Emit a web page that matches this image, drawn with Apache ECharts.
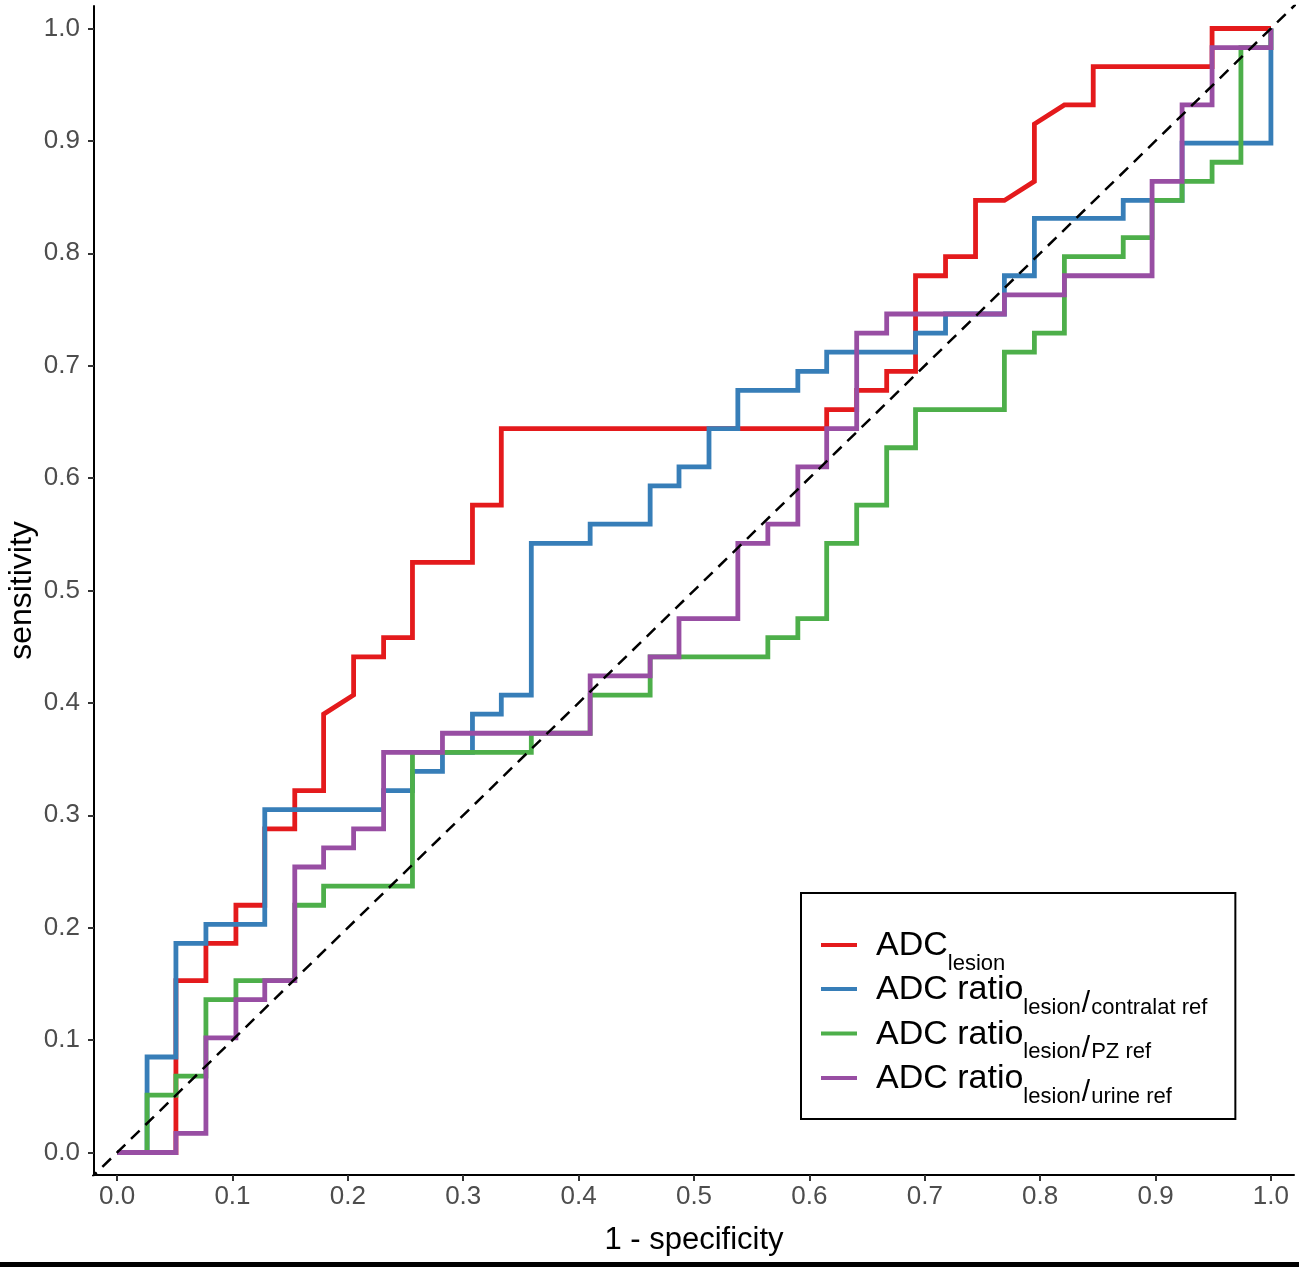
<!DOCTYPE html>
<html>
<head>
<meta charset="utf-8">
<script src="https://cdn.jsdelivr.net/npm/echarts@6/dist/echarts.min.js"></script>
<style>
    html, body { margin: 0; padding: 0; background: #fff; }
    #myChart { width: 1299px; height: 1267px; }
</style>
</head>
<body>
<div id="myChart"></div>
<script>
// 1 - specificity (x) / sensitivity (y)
let adcLesionX = [0, 0.051, 0.051, 0.077, 0.077, 0.103, 0.103, 0.128, 0.128, 0.154, 0.154, 0.179, 0.179, 0.205, 0.205, 0.231, 0.231, 0.256, 0.256, 0.308, 0.308, 0.333, 0.333, 0.615, 0.615, 0.641, 0.641, 0.667, 0.667, 0.692, 0.692, 0.718, 0.718, 0.744, 0.744, 0.769, 0.795, 0.795, 0.821, 0.846, 0.846, 0.949, 0.949, 1];
let adcLesionY = [0, 0, 0.153, 0.153, 0.186, 0.186, 0.220, 0.220, 0.288, 0.288, 0.322, 0.322, 0.390, 0.407, 0.441, 0.441, 0.458, 0.458, 0.525, 0.525, 0.576, 0.576, 0.644, 0.644, 0.661, 0.661, 0.678, 0.678, 0.695, 0.695, 0.780, 0.780, 0.797, 0.797, 0.847, 0.847, 0.864, 0.915, 0.932, 0.932, 0.966, 0.966, 1, 1];

let contralatX = [0, 0.026, 0.026, 0.051, 0.051, 0.077, 0.077, 0.128, 0.128, 0.231, 0.231, 0.256, 0.256, 0.282, 0.282, 0.308, 0.308, 0.333, 0.333, 0.359, 0.359, 0.410, 0.410, 0.462, 0.462, 0.487, 0.487, 0.513, 0.513, 0.538, 0.538, 0.590, 0.590, 0.615, 0.615, 0.692, 0.692, 0.718, 0.718, 0.769, 0.769, 0.795, 0.795, 0.872, 0.872, 0.923, 0.923, 1, 1];
let contralatY = [0, 0, 0.085, 0.085, 0.186, 0.186, 0.203, 0.203, 0.305, 0.305, 0.322, 0.322, 0.339, 0.339, 0.356, 0.356, 0.390, 0.390, 0.407, 0.407, 0.542, 0.542, 0.559, 0.559, 0.593, 0.593, 0.610, 0.610, 0.644, 0.644, 0.678, 0.678, 0.695, 0.695, 0.712, 0.712, 0.729, 0.729, 0.746, 0.746, 0.780, 0.780, 0.831, 0.831, 0.847, 0.847, 0.898, 0.898, 1];

let pzX = [0, 0.026, 0.026, 0.051, 0.051, 0.077, 0.077, 0.103, 0.103, 0.154, 0.154, 0.179, 0.179, 0.256, 0.256, 0.359, 0.359, 0.410, 0.410, 0.462, 0.462, 0.564, 0.564, 0.590, 0.590, 0.615, 0.615, 0.641, 0.641, 0.667, 0.667, 0.692, 0.692, 0.769, 0.769, 0.795, 0.795, 0.821, 0.821, 0.872, 0.872, 0.897, 0.897, 0.923, 0.923, 0.949, 0.949, 0.974, 0.974, 1, 1];
let pzY = [0, 0, 0.051, 0.051, 0.068, 0.068, 0.136, 0.136, 0.153, 0.153, 0.220, 0.220, 0.237, 0.237, 0.356, 0.356, 0.373, 0.373, 0.407, 0.407, 0.441, 0.441, 0.458, 0.458, 0.475, 0.475, 0.542, 0.542, 0.576, 0.576, 0.627, 0.627, 0.661, 0.661, 0.712, 0.712, 0.729, 0.729, 0.797, 0.797, 0.814, 0.814, 0.847, 0.847, 0.864, 0.864, 0.881, 0.881, 0.983, 0.983, 1];

let urineX = [0, 0.051, 0.051, 0.077, 0.077, 0.103, 0.103, 0.128, 0.128, 0.154, 0.154, 0.179, 0.179, 0.205, 0.205, 0.231, 0.231, 0.282, 0.282, 0.410, 0.410, 0.462, 0.462, 0.487, 0.487, 0.538, 0.538, 0.564, 0.564, 0.590, 0.590, 0.615, 0.615, 0.641, 0.641, 0.667, 0.667, 0.769, 0.769, 0.821, 0.821, 0.897, 0.897, 0.923, 0.923, 0.949, 0.949, 1, 1];
let urineY = [0, 0, 0.017, 0.017, 0.102, 0.102, 0.136, 0.136, 0.153, 0.153, 0.254, 0.254, 0.271, 0.271, 0.288, 0.288, 0.356, 0.356, 0.373, 0.373, 0.424, 0.424, 0.441, 0.441, 0.475, 0.475, 0.542, 0.542, 0.559, 0.559, 0.610, 0.610, 0.644, 0.644, 0.729, 0.729, 0.746, 0.746, 0.763, 0.763, 0.780, 0.780, 0.864, 0.864, 0.932, 0.932, 0.983, 0.983, 1];

// chance line y = x
let diagX = [-0.05, 1.05];
let diagY = [-0.05, 1.05];

let tickValues = [0, 0.1, 0.2, 0.3, 0.4, 0.5, 0.6, 0.7, 0.8, 0.9, 1.0];

let seriesNames = ['ADC lesion', 'ADC ratio contralat', 'ADC ratio PZ', 'ADC ratio urine'];
let legendLabels = {
    'ADC lesion': '{m|ADC}{s|lesion}',
    'ADC ratio contralat': '{m|ADC ratio}{s|lesion}{sl|/}{s|contralat ref}',
    'ADC ratio PZ': '{m|ADC ratio}{s|lesion}{sl|/}{s|PZ ref}',
    'ADC ratio urine': '{m|ADC ratio}{s|lesion}{sl|/}{s|urine ref}'
};
let colors = ['#E41A1C', '#377EB8', '#4DAF4A', '#984EA3'];

function zip(xs, ys) {
    let out = [];
    for (let i = 0; i < xs.length; i++) {
        out.push([xs[i], ys[i]]);
    }
    return out;
}

let font = 'Liberation Sans, Arial, sans-serif';
let myChart = echarts.init(document.getElementById('myChart'));

let rocLine = (name, xs, ys, color) => ({
    name: name,
    type: 'line',
    data: zip(xs, ys),
    showSymbol: false,
    symbol: 'none',
    color: color,
    lineStyle: { color: color, width: 4.8, join: 'miter', cap: 'butt' }
});

let option = {
    animation: false,
    backgroundColor: '#fff',
    grid: { left: 94, right: 5, top: 6, bottom: 92, containLabel: false, outerBoundsMode: 'none' },
    legend: {
        data: seriesNames,
        orient: 'vertical',
        left: 801,
        top: 893,
        icon: 'rect',
        itemWidth: 36,
        itemHeight: 4,
        itemGap: -7.5,
        selectedMode: false,
        padding: [30, 28, 11, 20],
        borderColor: '#000',
        borderWidth: 2,
        formatter: (name) => legendLabels[name],
        textStyle: {
            color: '#000',
            fontFamily: font,
            rich: {
                m: { fontSize: 34, lineHeight: 44, verticalAlign: 'top', fontFamily: font, color: '#000', padding: [6, 0, 0, 14] },
                s: { fontSize: 22, lineHeight: 10, verticalAlign: 'top', fontFamily: font, color: '#000', padding: [29.5, 0, 0, 0] },
                sl: { fontSize: 30, lineHeight: 10, verticalAlign: 'top', fontFamily: font, color: '#000', padding: [22, 1, 0, 1] }
            }
        }
    },
    xAxis: {
        type: 'value',
        min: -0.02,
        max: 1.02,
        name: '1 - specificity',
        nameLocation: 'middle',
        nameGap: 50,
        nameMoveOverlap: false,
        nameTextStyle: { color: '#000', fontSize: 31, fontFamily: font },
        splitLine: { show: false },
        axisLine: { onZero: false, lineStyle: { color: '#000', width: 2 } },
        axisTick: { customValues: tickValues, length: 6, lineStyle: { color: '#333', width: 2 } },
        axisLabel: {
            customValues: tickValues,
            color: '#4D4D4D',
            fontSize: 26,
            fontFamily: font,
            margin: 9,
            formatter: (v) => v.toFixed(1)
        }
    },
    yAxis: {
        type: 'value',
        min: -0.02,
        max: 1.02,
        name: 'sensitivity',
        nameLocation: 'middle',
        nameGap: 56,
        nameMoveOverlap: false,
        nameTextStyle: { color: '#000', fontSize: 32, fontFamily: font },
        splitLine: { show: false },
        axisLine: { show: true, onZero: false, lineStyle: { color: '#000', width: 2 } },
        axisTick: { show: true, customValues: tickValues, length: 6, lineStyle: { color: '#333', width: 2 } },
        axisLabel: {
            customValues: tickValues,
            color: '#4D4D4D',
            fontSize: 26,
            fontFamily: font,
            margin: 14,
            formatter: (v) => v.toFixed(1)
        }
    },
    series: [
        rocLine(seriesNames[0], adcLesionX, adcLesionY, colors[0]),
        rocLine(seriesNames[1], contralatX, contralatY, colors[1]),
        rocLine(seriesNames[2], pzX, pzY, colors[2]),
        rocLine(seriesNames[3], urineX, urineY, colors[3]),
        {
            name: 'chance',
            type: 'line',
            data: zip(diagX, diagY),
            symbol: 'none',
            clip: true,
            z: 5,
            lineStyle: { color: '#000', width: 2.5, type: [12, 8] }
        }
    ],
    graphic: [
        { type: 'rect', left: 0, top: 1262, shape: { width: 1299, height: 5 }, style: { fill: '#000' } }
    ]
};
myChart.setOption(option);
</script>
</body>
</html>
